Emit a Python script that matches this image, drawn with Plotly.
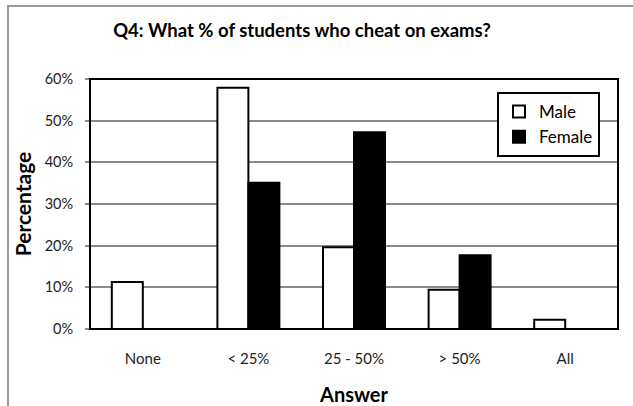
import plotly.graph_objects as go

categories = ["None", "< 25%", "25 - 50%", "> 50%", "All"]
male = [0.113, 0.579, 0.196, 0.094, 0.022]
female = [0.0, 0.351, 0.472, 0.177, 0.0]
y_ticks = [0, 0.1, 0.2, 0.3, 0.4, 0.5, 0.6]

FONT = "Lato"

fig = go.Figure()
fig.add_trace(go.Bar(x=categories, y=male, name="Male", legendgroup="m",
                     marker=dict(color="white", line=dict(color="black", width=2))))
fig.add_trace(go.Bar(x=categories, y=female, name="Female", legendgroup="f",
                     marker=dict(color="black", line=dict(color="black", width=2))))

W, H = 633, 406
L, R, T, B = 90, 15, 79, 77
pw, ph = W - L - R, H - T - B

fig.update_layout(
    width=W, height=H,
    margin=dict(l=L, r=R, t=T, b=B, pad=0, autoexpand=False),
    paper_bgcolor="white", plot_bgcolor="white",
    barmode="group", bargap=0.413, bargroupgap=0,
    font=dict(family=FONT, color="#222", size=13),
    title=dict(text="<b>Q4: What % of students who cheat on exams?</b>",
               x=(302 / W), xanchor="center", y=1 - 31 / H, yanchor="middle",
               font=dict(family=FONT, size=18.5, color="black"),
               automargin=False),
    showlegend=True,
    legend=dict(x=(497 - L) / pw, y=(329 - 92) / ph, xanchor="left", yanchor="top",
                bgcolor="white", bordercolor="black", borderwidth=2,
                font=dict(family=FONT, size=17, color="black"),
                tracegroupgap=12, traceorder="normal", itemwidth=30),
    xaxis=dict(showgrid=False, ticks="", showline=False, zeroline=False,
               automargin=False, ticklabelstandoff=19,
               tickfont=dict(family=FONT, size=15, color="#222"),
               title=dict(text="<b>Answer</b>", font=dict(family=FONT, size=20, color="black"),
                          standoff=22)),
    yaxis=dict(range=[0, 0.6], tickvals=y_ticks, tickformat=".0%",
               showgrid=True, gridcolor="#8a8a8a", gridwidth=1.5,
               ticks="outside", ticklen=4, tickcolor="#8a8a8a", tickwidth=1.5,
               ticklabelstandoff=9,
               showline=False, zeroline=False, automargin=False,
               tickfont=dict(family=FONT, size=14.5, color="#222"),
               title=dict(text="<b>Percentage</b>", font=dict(family=FONT, size=21, color="black"),
                          standoff=7)),
)

# plot-area frame
fig.add_shape(type="rect", xref="paper", yref="paper", x0=0, x1=1, y0=0, y1=1,
              line=dict(color="black", width=2), layer="above")
# outer chart border (gray), partially cut at right/bottom
fig.add_shape(type="rect", xref="paper", yref="paper",
              x0=(8 - L) / pw, x1=(W + 10 - L) / pw,
              y0=-(B + 10) / ph, y1=1 + (T - 6) / ph,
              line=dict(color="#9a9a9a", width=2), layer="above")

fig.write_html("out.html",
               config={"displayModeBar": False},
               post_script="document.body.style.margin='0';document.body.style.overflow='hidden';")
